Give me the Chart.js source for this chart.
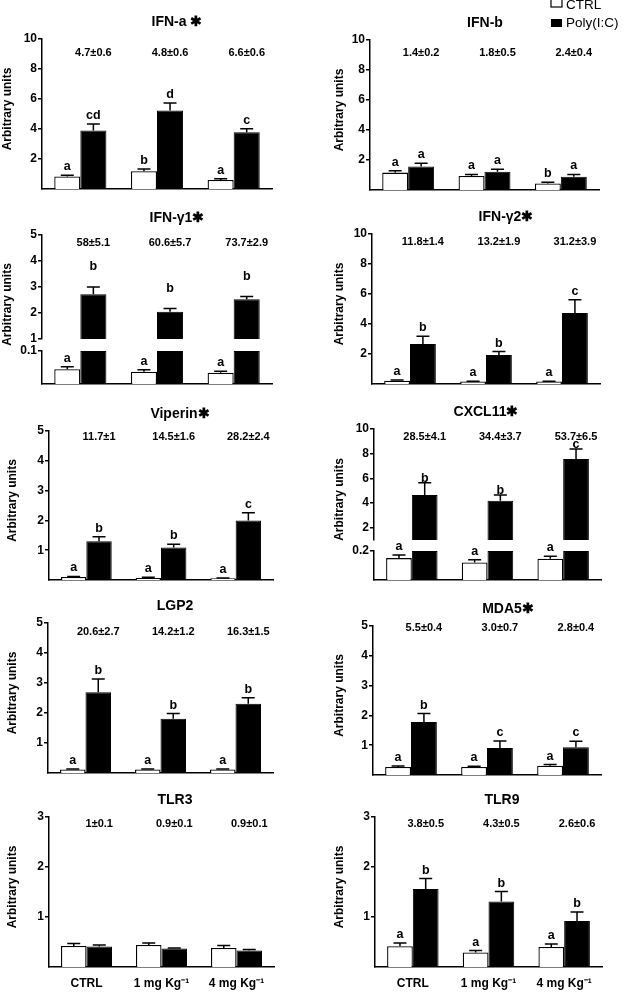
<!DOCTYPE html>
<html>
<head>
<meta charset="utf-8">
<script src="https://cdn.jsdelivr.net/npm/chart.js@4.4.1/dist/chart.umd.min.js"></script>
<style>
  html, body { margin: 0; padding: 0; background: #fff; }
  body { position: relative; width: 624px; height: 992px; overflow: hidden; }
  canvas { position: absolute; }
</style>
</head>
<body>
<script>
var groups = ['CTRL', '1 mg Kg⁻¹', '4 mg Kg⁻¹'];
var seriesNames = ['CTRL', 'Poly(I:C)'];

// IFN-a
var ifnaCtrl = [0.84, 1.18, 0.60];
var ifnaCtrlSem = [0.08, 0.15, 0.08];
var ifnaPoly = [3.90, 5.24, 3.78];
var ifnaPolySem = [0.43, 0.49, 0.24];
var ifnaCtrlLet = ['a', 'b', 'a'];
var ifnaPolyLet = ['cd', 'd', 'c'];
var ifnaFold = ['4.7±0.6', '4.8±0.6', '6.6±0.6'];
var ifnaTicks = [2, 4, 6, 8, 10];

// IFN-b
var ifnbCtrl = [1.16, 0.93, 0.44];
var ifnbCtrlSem = [0.13, 0.11, 0.07];
var ifnbPoly = [1.56, 1.22, 0.89];
var ifnbPolySem = [0.22, 0.16, 0.15];
var ifnbCtrlLet = ['a', 'a', 'b'];
var ifnbPolyLet = ['a', 'a', 'a'];
var ifnbFold = ['1.4±0.2', '1.8±0.5', '2.4±0.4'];
var ifnbTicks = [2, 4, 6, 8, 10];

// IFN-g1 (broken axis)
var ifng1Ctrl = [0.045, 0.037, 0.034];
var ifng1CtrlSem = [0.007, 0.006, 0.005];
var ifng1Poly = [2.72, 2.05, 2.53];
var ifng1PolySem = [0.28, 0.12, 0.10];
var ifng1CtrlLet = ['a', 'a', 'a'];
var ifng1PolyLet = ['b', 'b', 'b'];
var ifng1Fold = ['58±5.1', '60.6±5.7', '73.7±2.9'];
var ifng1UpTicks = [1, 2, 3, 4, 5];
var ifng1LowTicks = [0.1];

// IFN-g2
var ifng2Ctrl = [0.22, 0.16, 0.16];
var ifng2CtrlSem = [0.05, 0.02, 0.02];
var ifng2Poly = [2.67, 1.93, 4.73];
var ifng2PolySem = [0.51, 0.23, 0.89];
var ifng2CtrlLet = ['a', 'a', 'a'];
var ifng2PolyLet = ['b', 'b', 'c'];
var ifng2Fold = ['11.8±1.4', '13.2±1.9', '31.2±3.9'];
var ifng2Ticks = [2, 4, 6, 8, 10];

// Viperin
var vipCtrl = [0.10, 0.07, 0.06];
var vipCtrlSem = [0.02, 0.02, 0.01];
var vipPoly = [1.30, 1.09, 2.00];
var vipPolySem = [0.15, 0.11, 0.26];
var vipCtrlLet = ['a', 'a', 'a'];
var vipPolyLet = ['b', 'b', 'c'];
var vipFold = ['11.7±1', '14.5±1.6', '28.2±2.4'];
var vipTicks = [1, 2, 3, 4, 5];

// CXCL11 (broken axis)
var cxclCtrl = [0.151, 0.121, 0.147];
var cxclCtrlSem = [0.021, 0.019, 0.016];
var cxclPoly = [4.65, 4.19, 7.57];
var cxclPolySem = [1.00, 0.46, 0.81];
var cxclCtrlLet = ['a', 'a', 'a'];
var cxclPolyLet = ['b', 'b', 'c'];
var cxclFold = ['28.5±4.1', '34.4±3.7', '53.7±6.5'];
var cxclUpTicks = [2, 4, 6, 8, 10];
var cxclLowTicks = [0.2];

// LGP2
var lgpCtrl = [0.12, 0.12, 0.12];
var lgpCtrlSem = [0.01, 0.01, 0.01];
var lgpPoly = [2.69, 1.81, 2.31];
var lgpPolySem = [0.44, 0.17, 0.20];
var lgpCtrlLet = ['a', 'a', 'a'];
var lgpPolyLet = ['b', 'b', 'b'];
var lgpFold = ['20.6±2.7', '14.2±1.2', '16.3±1.5'];
var lgpTicks = [1, 2, 3, 4, 5];

// MDA5
var mdaCtrl = [0.27, 0.27, 0.31];
var mdaCtrlSem = [0.03, 0.02, 0.04];
var mdaPoly = [1.78, 0.91, 0.93];
var mdaPolySem = [0.28, 0.23, 0.20];
var mdaCtrlLet = ['a', 'a', 'a'];
var mdaPolyLet = ['b', 'c', 'c'];
var mdaFold = ['5.5±0.4', '3.0±0.7', '2.8±0.4'];
var mdaTicks = [1, 2, 3, 4, 5];

// TLR3
var tlr3Ctrl = [0.42, 0.44, 0.38];
var tlr3CtrlSem = [0.05, 0.04, 0.05];
var tlr3Poly = [0.41, 0.37, 0.33];
var tlr3PolySem = [0.03, 0.01, 0.02];
var tlr3Fold = ['1±0.1', '0.9±0.1', '0.9±0.1'];
var tlr3Ticks = [1, 2, 3];

// TLR9
var tlr9Ctrl = [0.415, 0.29, 0.40];
var tlr9CtrlSem = [0.065, 0.04, 0.06];
var tlr9Poly = [1.56, 1.31, 0.92];
var tlr9PolySem = [0.21, 0.20, 0.18];
var tlr9CtrlLet = ['a', 'a', 'a'];
var tlr9PolyLet = ['b', 'b', 'b'];
var tlr9Fold = ['3.8±0.5', '4.3±0.5', '2.6±0.6'];
var tlr9Ticks = [1, 2, 3];

var FONT = '"Liberation Sans", Arial, Helvetica, sans-serif';
Chart.defaults.font.family = FONT;
Chart.defaults.color = '#000';

var panels = [
  {title: 'IFN-a ✱', tx: 177, ytx: 8, x0: 0, l: 42, r: 272, t: 39, b: 189, max: 10, ticks: ifnaTicks,
   ctrl: ifnaCtrl, ctrlSem: ifnaCtrlSem, poly: ifnaPoly, polySem: ifnaPolySem, cl: ifnaCtrlLet, pl: ifnaPolyLet, fold: ifnaFold, foldDy: 14},
  {title: 'IFN-b', tx: 485, ytx: 340, x0: 332, l: 370, r: 599, t: 40, b: 190, max: 10, ticks: ifnbTicks, legend: true,
   ctrl: ifnbCtrl, ctrlSem: ifnbCtrlSem, poly: ifnbPoly, polySem: ifnbPolySem, cl: ifnbCtrlLet, pl: ifnbPolyLet, fold: ifnbFold, foldDy: 13},
  {title: 'IFN-γ1✱', tx: 177, ytx: 8, x0: 0, l: 42, r: 272, t: 235, b: 384,
   brk: {ub: 339, lt: 351, upMin: 1, upMax: 5, upTicks: ifng1UpTicks, lowMax: 0.1, lowTicks: ifng1LowTicks}, gapUp: 17,
   ctrl: ifng1Ctrl, ctrlSem: ifng1CtrlSem, poly: ifng1Poly, polySem: ifng1PolySem, cl: ifng1CtrlLet, pl: ifng1PolyLet, fold: ifng1Fold, foldDy: 8},
  {title: 'IFN-γ2✱', tx: 506, ytx: 340, x0: 332, l: 372, r: 600, t: 234, b: 384, max: 10, ticks: ifng2Ticks,
   ctrl: ifng2Ctrl, ctrlSem: ifng2CtrlSem, poly: ifng2Poly, polySem: ifng2PolySem, cl: ifng2CtrlLet, pl: ifng2PolyLet, fold: ifng2Fold, foldDy: 8},
  {title: 'Viperin✱', tx: 180, ytx: 13, x0: 4, l: 49, r: 273, t: 431, b: 580, max: 5, ticks: vipTicks,
   ctrl: vipCtrl, ctrlSem: vipCtrlSem, poly: vipPoly, polySem: vipPolySem, cl: vipCtrlLet, pl: vipPolyLet, fold: vipFold, foldDy: 6},
  {title: 'CXCL11✱', tx: 486, ytx: 340, x0: 332, l: 374, r: 601, t: 429, b: 580,
   brk: {ub: 540, lt: 551, upMin: 1, upMax: 10, upTicks: cxclUpTicks, lowMax: 0.2, lowTicks: cxclLowTicks}, gapUp: 1,
   ctrl: cxclCtrl, ctrlSem: cxclCtrlSem, poly: cxclPoly, polySem: cxclPolySem, cl: cxclCtrlLet, pl: cxclPolyLet, fold: cxclFold, foldDy: 8},
  {title: 'LGP2', tx: 175, ytx: 13, x0: 4, l: 48, r: 273, t: 623, b: 773, max: 5, ticks: lgpTicks,
   ctrl: lgpCtrl, ctrlSem: lgpCtrlSem, poly: lgpPoly, polySem: lgpPolySem, cl: lgpCtrlLet, pl: lgpPolyLet, fold: lgpFold, foldDy: 9},
  {title: 'MDA5✱', tx: 508, ytx: 340, x0: 332, l: 373, r: 601, t: 626, b: 775, max: 5, ticks: mdaTicks,
   ctrl: mdaCtrl, ctrlSem: mdaCtrlSem, poly: mdaPoly, polySem: mdaPolySem, cl: mdaCtrlLet, pl: mdaPolyLet, fold: mdaFold, foldDy: 2},
  {title: 'TLR3', tx: 175, ytx: 13, x0: 4, l: 49, r: 274, t: 817, b: 967, max: 3, ticks: tlr3Ticks, xlab: true,
   ctrl: tlr3Ctrl, ctrlSem: tlr3CtrlSem, poly: tlr3Poly, polySem: tlr3PolySem, cl: null, pl: null, fold: tlr3Fold, foldDy: 7},
  {title: 'TLR9', tx: 502, ytx: 340, x0: 332, l: 375, r: 602, t: 817, b: 967, max: 3, ticks: tlr9Ticks, xlab: true,
   ctrl: tlr9Ctrl, ctrlSem: tlr9CtrlSem, poly: tlr9Poly, polySem: tlr9PolySem, cl: tlr9CtrlLet, pl: tlr9PolyLet, fold: tlr9Fold, foldDy: 7}
];

function makeChart(p, part) {
  var top = part === 'lower' ? p.brk.lt : p.t;
  var bot = part === 'upper' ? p.brk.ub : p.b;
  var min = part === 'upper' ? p.brk.upMin : 0;
  var max = part === 'upper' ? p.brk.upMax : (part === 'lower' ? p.brk.lowMax : p.max);
  var tickVals = part === 'upper' ? p.brk.upTicks : (part === 'lower' ? p.brk.lowTicks : p.ticks);
  var padTop = part === 'lower' ? 14 : 40;
  var padR = p.legend ? 624 - p.r : 12;
  var xH = p.xlab ? 25 : 12;
  var w = p.r - p.x0 + padR, h = bot - top + padTop + xH;
  var cTop = top - padTop;

  var cv = document.createElement('canvas');
  cv.width = w; cv.height = h;
  cv.style.left = p.x0 + 'px'; cv.style.top = cTop + 'px';
  cv.style.width = w + 'px'; cv.style.height = h + 'px';
  document.body.appendChild(cv);

  var ctrlData = part === 'upper' ? p.ctrl.map(function () { return null; }) : p.ctrl.slice();
  var polyData = part === 'lower' ? p.poly.map(function (v) { return Math.min(v, max); }) : p.poly.slice();
  var gap = part === 'upper' ? p.gapUp : 5;

  var deco = {
    id: 'deco',
    afterDatasetsDraw: function (chart) {
      var ctx = chart.ctx, a = chart.chartArea, ys = chart.scales.y;
      ctx.save();
      ctx.fillStyle = '#000';
      ctx.strokeStyle = '#000';
      var vals = [p.ctrl, p.poly], sems = [p.ctrlSem, p.polySem], lets = [p.cl, p.pl];
      [0, 1].forEach(function (di) {
        if (part === 'upper' && di === 0) return;
        if (part === 'lower' && di === 1) return;
        chart.getDatasetMeta(di).data.forEach(function (bar, i) {
          var yv = ys.getPixelForValue(vals[di][i]);
          var ye = ys.getPixelForValue(vals[di][i] + sems[di][i]);
          ctx.lineWidth = 1.5;
          ctx.beginPath();
          ctx.moveTo(bar.x, yv); ctx.lineTo(bar.x, ye);
          ctx.moveTo(bar.x - 6.5, ye); ctx.lineTo(bar.x + 6.5, ye);
          ctx.stroke();
          if (lets[di]) {
            ctx.font = 'bold 12.5px ' + FONT;
            ctx.textAlign = 'center';
            ctx.textBaseline = 'alphabetic';
            ctx.fillText(lets[di][i], bar.x, ye - gap);
          }
        });
      });
      if (part !== 'lower') {
        // fold change values above the Poly(I:C) bars
        ctx.font = 'bold 11px ' + FONT;
        ctx.textAlign = 'center';
        ctx.textBaseline = 'middle';
        chart.getDatasetMeta(1).data.forEach(function (bar, i) {
          ctx.fillText(p.fold[i], bar.x, a.top + p.foldDy);
        });
        // panel title
        ctx.font = 'bold 14px ' + FONT;
        ctx.fillText(p.title, p.tx - p.x0, a.top - 17);
        // y axis title
        ctx.save();
        ctx.translate(p.ytx - p.x0, (p.t + p.b) / 2 - 5 - cTop);
        ctx.rotate(-Math.PI / 2);
        ctx.font = 'bold 12px ' + FONT;
        ctx.fillText('Arbitrary units', 0, 0);
        ctx.restore();
      }
      if (p.legend) {
        ctx.lineWidth = 1.2;
        ctx.strokeRect(551 - p.x0, -1 - cTop, 11, 8);
        ctx.fillRect(551 - p.x0, 19 - cTop, 11, 8);
        ctx.font = '13.5px ' + FONT;
        ctx.textAlign = 'left';
        ctx.textBaseline = 'middle';
        ctx.fillText(seriesNames[0], 566 - p.x0, 5 - cTop);
        ctx.fillText(seriesNames[1], 566 - p.x0, 23 - cTop);
      }
      ctx.restore();
    }
  };

  new Chart(cv, {
    type: 'bar',
    data: {
      labels: groups,
      datasets: [
        {label: seriesNames[0], data: ctrlData, backgroundColor: '#fff', borderColor: '#000', borderWidth: 1.3},
        {label: seriesNames[1], data: polyData, backgroundColor: '#000', borderColor: '#000', borderWidth: 1}
      ]
    },
    options: {
      responsive: false,
      animation: false,
      devicePixelRatio: 1,
      events: [],
      layout: {padding: {top: padTop, right: padR, left: 0, bottom: 0}},
      datasets: {bar: {categoryPercentage: 0.68, barPercentage: 1}},
      plugins: {legend: {display: false}, tooltip: {enabled: false}, title: {display: false}},
      scales: {
        x: {
          grid: {display: false, drawTicks: false},
          border: {display: part !== 'upper', color: '#000', width: 1.5},
          ticks: {display: !!p.xlab, padding: 9, color: '#000', font: {size: 12, weight: 'bold'}, maxRotation: 0, autoSkip: false},
          afterFit: function (s) { s.height = xH; }
        },
        y: {
          min: min,
          max: max,
          afterBuildTicks: function (s) { s.ticks = tickVals.map(function (v) { return {value: v}; }); },
          afterFit: function (s) { s.width = p.l - p.x0; },
          grid: {drawOnChartArea: false, drawTicks: true, tickLength: 4, color: '#000', lineWidth: 1.5},
          border: {color: '#000', width: 1.5},
          ticks: {color: '#000', padding: 1, font: {size: 12, weight: 'bold'}, callback: function (v) { return String(v); }}
        }
      }
    },
    plugins: [deco]
  });
}

panels.forEach(function (p) {
  if (p.brk) {
    makeChart(p, 'upper');
    makeChart(p, 'lower');
  } else {
    makeChart(p, 'full');
  }
});
</script>
</body>
</html>
